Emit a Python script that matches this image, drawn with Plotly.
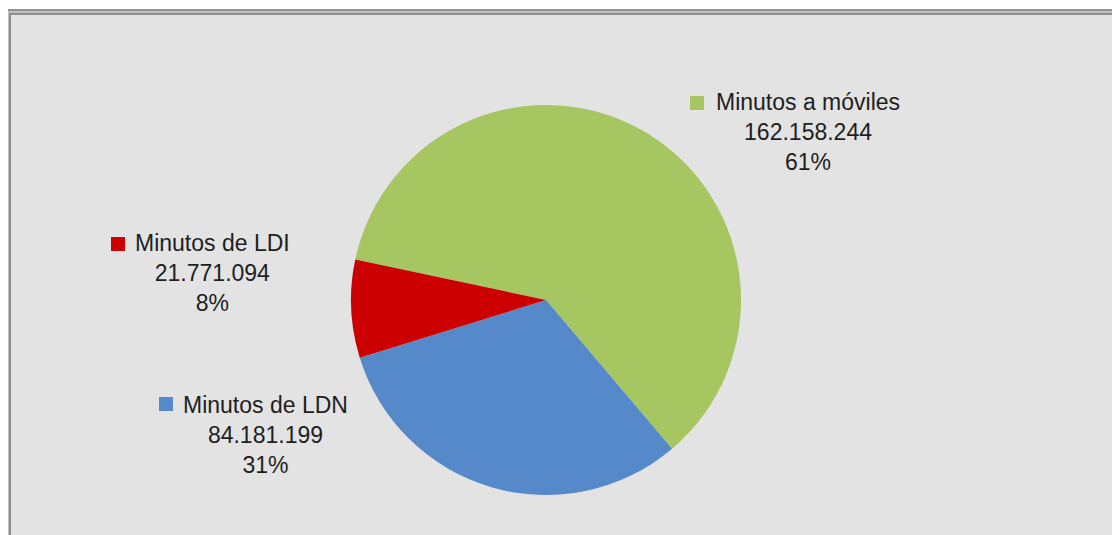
import plotly.graph_objects as go

categories = ["Minutos a móviles", "Minutos de LDN", "Minutos de LDI"]
values = [162158244, 84181199, 21771094]
pct_labels = ["61%", "31%", "8%"]
colors = ["#A5C661", "#5689C9", "#CC0000"]

W, H = 1120, 535
OFF = 8  # page body margin in the browser

def fmt(v):
    return f"{v:,}".replace(",", ".")

def px_x(x):
    return (x - OFF) / W

def px_y(y):
    return 1 - (y - OFF) / H

fig = go.Figure()
fig.add_trace(go.Pie(
    labels=categories, values=values, sort=False, direction="clockwise",
    rotation=-78, marker=dict(colors=colors, line=dict(width=0)),
    textinfo="none", hoverinfo="label+value+percent", showlegend=False,
    domain=dict(x=[px_x(351), px_x(741)], y=[px_y(495), px_y(105)]),
))

# label blocks: (text centre x px, centre y px, key square x px, key y px)
label_pos = [(808, 132, 690, 96), (265, 435, 159, 397), (212, 273, 111, 237)]
shapes = [
    dict(type="rect", xref="paper", yref="paper", layer="below",
         x0=px_x(8), x1=1.05, y0=-0.05, y1=px_y(12),
         fillcolor="#E3E3E3", line=dict(color="#8F8F8F", width=6)),
    dict(type="rect", xref="paper", yref="paper", layer="below",
         x0=px_x(8), x1=1.05, y0=-0.05, y1=px_y(12),
         fillcolor="rgba(0,0,0,0)", line=dict(color="#BEBEBE", width=2)),
]
annotations = []
for name, v, p, c, (cx, cy, sx, sy) in zip(categories, values, pct_labels, colors, label_pos):
    annotations.append(dict(
        xref="paper", yref="paper", x=px_x(cx), y=px_y(cy),
        xanchor="center", yanchor="middle", showarrow=False, align="center",
        text=f"{name}<br>{fmt(v)}<br>{p}",
        font=dict(family="Liberation Sans", size=23, color="#1E1E1E"),
    ))
    shapes.append(dict(type="rect", xref="paper", yref="paper",
                       x0=px_x(sx), x1=px_x(sx + 14), y0=px_y(sy + 14), y1=px_y(sy),
                       fillcolor=c, line=dict(width=0)))

fig.update_layout(
    width=W, height=H, margin=dict(l=0, r=0, t=0, b=0),
    paper_bgcolor="white", plot_bgcolor="white",
    shapes=shapes, annotations=annotations,
)
fig.write_html("out.html")
